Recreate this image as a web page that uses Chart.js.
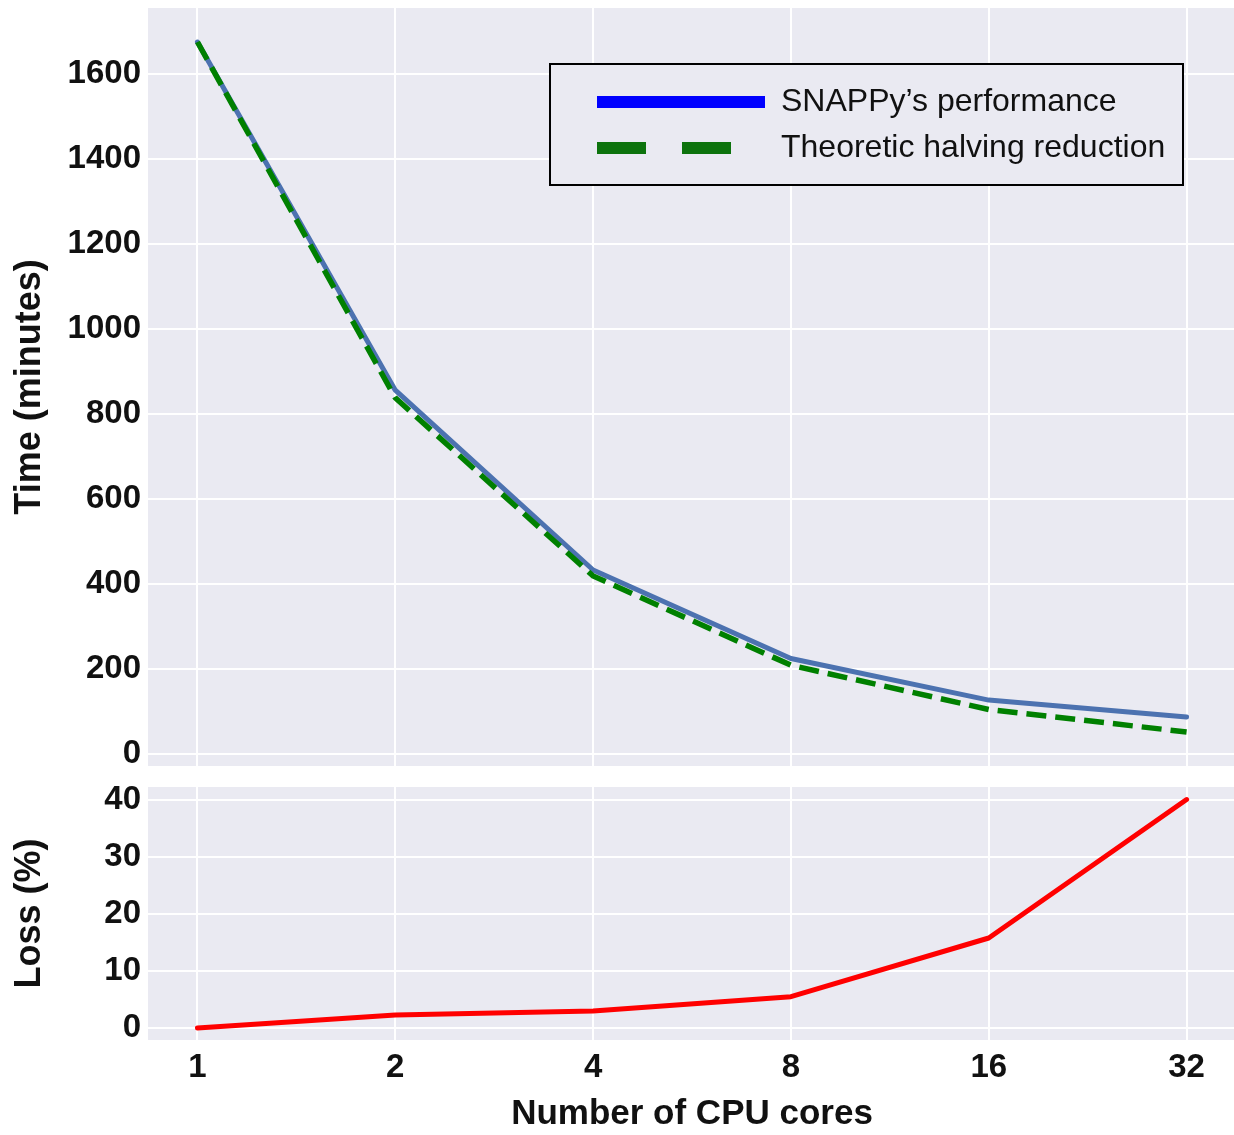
<!DOCTYPE html>
<html>
<head>
<meta charset="utf-8">
<script src="https://cdn.jsdelivr.net/npm/chart.js@4.4.0/dist/chart.umd.min.js"></script>
<style>
  html, body { margin: 0; padding: 0; background: #fff; overflow: hidden; width: 1234px; height: 1135px; }
  canvas { position: absolute; left: 0; }
  #timeChart { top: 0; }
  #lossChart { top: 776px; }
</style>
</head>
<body>
<canvas id="timeChart" width="1240" height="776"></canvas>
<canvas id="lossChart" width="1240" height="359"></canvas>
<script>
// values
const cores = [1, 2, 4, 8, 16, 32];
const snappyTime = [1675, 856, 433, 225, 127, 87];
const halvingTime = [1675, 838, 419, 209, 105, 52];
const lossPct = [0, 2.3, 3.0, 5.5, 15.8, 40.1];

const timeTicks = [0, 200, 400, 600, 800, 1000, 1200, 1400, 1600];
const lossTicks = [0, 10, 20, 30, 40];

const bg = '#eaeaf2';
const tickFont = { family: 'Liberation Sans', size: 33, weight: 'bold' };
const titleFont = { family: 'Liberation Sans', size: 36, weight: 'bold' };

const toPoints = (ys) => cores.map((c, i) => ({ x: c, y: ys[i] }));

const plotBg = {
  id: 'plotBg',
  beforeDraw(chart) {
    const { ctx, chartArea: a } = chart;
    ctx.save();
    ctx.fillStyle = bg;
    ctx.fillRect(a.left, a.top, a.right - a.left, a.bottom - a.top);
    ctx.restore();
  }
};

// legend box drawn inside the top plot, like matplotlib's
const boxLegend = {
  id: 'boxLegend',
  afterDraw(chart) {
    const { ctx, chartArea: a } = chart;
    const left = a.right - 686, top = a.top + 56, w = 633, h = 121;
    ctx.save();
    ctx.fillStyle = bg;
    ctx.fillRect(left, top, w, h);
    ctx.lineWidth = 2;
    ctx.strokeStyle = '#000';
    ctx.strokeRect(left, top, w, h);

    const items = chart.data.datasets.slice().sort((p, q) => p.legendIndex - q.legendIndex);
    items.forEach((ds, i) => {
      const y = top + 38 + i * 46;
      ctx.beginPath();
      ctx.lineWidth = 12;
      ctx.lineCap = 'butt';
      ctx.strokeStyle = ds.legendColor;
      ctx.setLineDash(ds.legendDash || []);
      ctx.moveTo(left + 47, y);
      ctx.lineTo(left + 215, y);
      ctx.stroke();
      ctx.setLineDash([]);
      ctx.fillStyle = '#111';
      ctx.font = '32px "Liberation Sans"';
      ctx.textBaseline = 'middle';
      ctx.fillText(ds.label, left + 231, y);
    });
    ctx.restore();
  }
};

function xScale(showTicks, extra) {
  return Object.assign({
    type: 'logarithmic',
    min: 0.8409,
    max: 38.05,
    afterBuildTicks: s => { s.ticks = cores.map(v => ({ value: v })); },
    grid: { color: '#ffffff', lineWidth: 2, drawTicks: false },
    border: { display: false },
    ticks: {
      display: showTicks,
      color: '#111',
      font: tickFont,
      padding: 8,
      maxRotation: 0,
      autoSkip: false,
      callback: v => String(v)
    }
  }, extra);
}

function yScale(min, max, tickList, title) {
  return {
    min,
    max,
    afterBuildTicks: s => { s.ticks = tickList.map(v => ({ value: v })); },
    afterFit: s => { s.width = 148; s.paddingTop = 0; s.paddingBottom = 0; },
    grid: { color: '#ffffff', lineWidth: 2, drawTicks: false },
    border: { display: false },
    ticks: { color: '#111', font: tickFont, padding: 7, callback: v => String(v) },
    title: { display: true, text: title, color: '#111', font: titleFont, padding: { top: 8, bottom: 0 } }
  };
}

new Chart(document.getElementById('timeChart'), {
  type: 'line',
  data: {
    datasets: [
      {
        label: 'SNAPPy’s performance',
        data: toPoints(snappyTime),
        borderColor: '#4c72b0',
        borderWidth: 5,
        borderCapStyle: 'round',
        borderJoinStyle: 'round',
        legendColor: '#0000ff',
        legendIndex: 0,
        order: 1
      },
      {
        label: 'Theoretic halving reduction',
        data: toPoints(halvingTime),
        borderColor: '#008000',
        borderWidth: 5.5,
        borderDash: [20, 9],
        borderCapStyle: 'butt',
        legendColor: '#0d730d',
        legendDash: [49, 36],
        legendIndex: 1,
        order: 0
      }
    ]
  },
  options: {
    responsive: false,
    animation: false,
    parsing: false,
    elements: { point: { radius: 0 }, line: { tension: 0 } },
    layout: { padding: { top: 8, right: 4, left: 0, bottom: 0 } },
    plugins: { legend: { display: false }, tooltip: { enabled: false } },
    scales: {
      x: xScale(false, { afterFit: s => { s.height = 10; } }),
      y: yScale(-28, 1755, timeTicks, 'Time (minutes)')
    }
  },
  plugins: [plotBg, boxLegend]
});

new Chart(document.getElementById('lossChart'), {
  type: 'line',
  data: {
    datasets: [{
      label: 'Loss',
      data: toPoints(lossPct),
      borderColor: '#ff0000',
      borderWidth: 5,
      borderCapStyle: 'round',
      borderJoinStyle: 'round'
    }]
  },
  options: {
    responsive: false,
    animation: false,
    parsing: false,
    elements: { point: { radius: 0 }, line: { tension: 0 } },
    layout: { padding: { top: 11, right: 4, left: 0, bottom: 0 } },
    plugins: { legend: { display: false }, tooltip: { enabled: false } },
    scales: {
      x: xScale(true, {
        afterFit: s => { s.height = 95; },
        title: { display: true, text: 'Number of CPU cores', color: '#111', font: { family: 'Liberation Sans', size: 35, weight: 'bold' }, padding: { top: 0, bottom: 0 } }
      }),
      y: yScale(-2.1, 42.3, lossTicks, 'Loss (%)')
    }
  },
  plugins: [plotBg]
});
</script>
</body>
</html>
